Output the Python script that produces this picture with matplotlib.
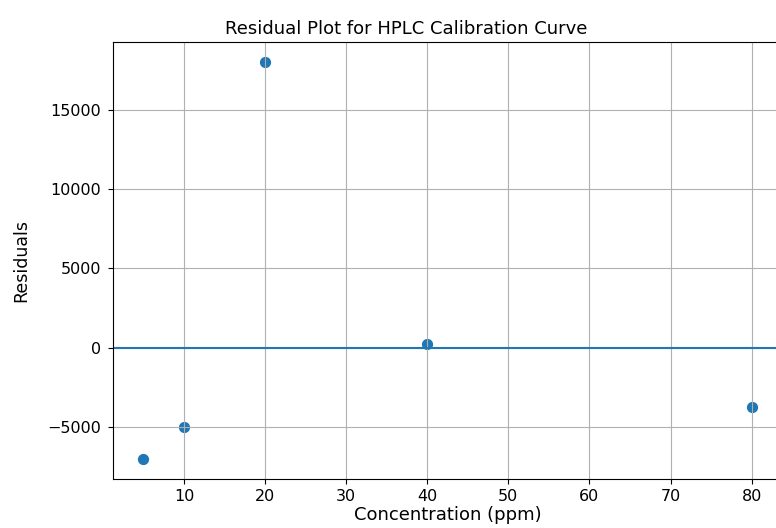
import numpy as np
import matplotlib
matplotlib.use("Agg")
import matplotlib.pyplot as plt

# concentrations (ppm) and residuals
concentration = np.array([5, 10, 20, 40, 80])
residuals = np.array([-7000, -4950, 18000, 250, -3700])

fig = plt.figure(figsize=(7.76, 5.28), dpi=100)
# axes in figure fraction; the right spine sits just outside the canvas, as in the source
ax = fig.add_axes([113 / 776, 49 / 528, 669 / 776, 437 / 528])

ax.scatter(concentration, residuals, s=50)
ax.axhline(0)

# the source title is centred left of the axes middle
ax.set_title("Residual Plot for HPLC Calibration Curve", fontsize=13, x=0.438)
ax.set_xlabel("Concentration (ppm)", fontsize=13, labelpad=2)
ax.set_ylabel("Residuals", fontsize=12.5, labelpad=12)
ax.tick_params(labelsize=11.5)
ax.tick_params(axis="y", pad=5)
ax.grid(True)

fig.savefig("out.png", dpi=100)
